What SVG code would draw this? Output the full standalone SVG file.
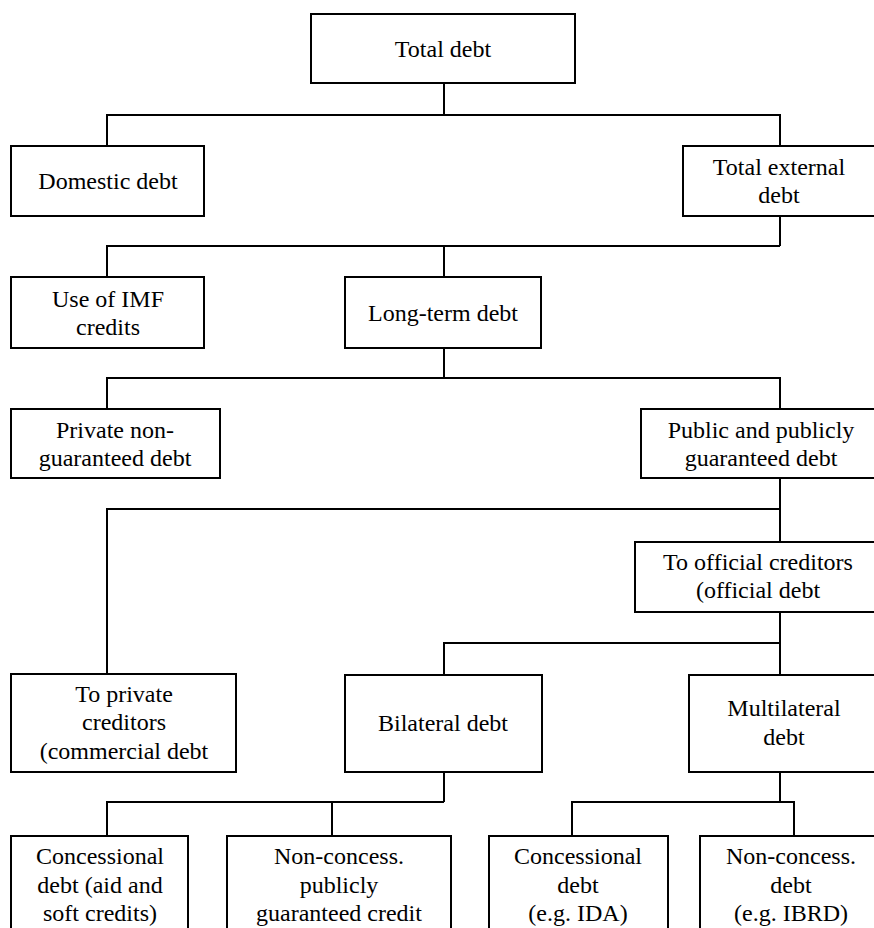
<svg xmlns="http://www.w3.org/2000/svg" width="874" height="928" viewBox="0 0 874 928">
<style>
.box{fill:#fff;stroke:#000;stroke-width:2}
.ln{fill:none;stroke:#000;stroke-width:2}
.t text{font-size:24px;fill:#000;text-anchor:middle}
</style>
<rect width="874" height="928" fill="#fff"/>
<g id="connectors" class="ln">
<path d="M444 83V115M107 146V115H780V146"/>
<path d="M780 216V246M107 277V246H780M444 246V277"/>
<path d="M444 348V378M107 409V378H780V409"/>
<path d="M780 478V542M107 674V509H780"/>
<path d="M780 612V675M444 675V643H780"/>
<path d="M444 772V802M107 836V802H444M332 802V836"/>
<path d="M780 772V802M572 836V802H794V836"/>
</g>
<g class="t" font-family="Liberation Serif, Times New Roman, DejaVu Serif, serif">
<g id="n-total"><rect class="box" x="311" y="14" width="264" height="69"/><text x="443" y="57">Total debt</text></g>
<g id="n-domestic"><rect class="box" x="11" y="146" width="193" height="70"/><text x="108" y="189">Domestic debt</text></g>
<g id="n-external"><rect class="box" x="683" y="146" width="195" height="70"/><text x="779" y="175">Total external</text><text x="779" y="203">debt</text></g>
<g id="n-imf"><rect class="box" x="11" y="277" width="193" height="71"/><text x="108" y="307">Use of IMF</text><text x="108" y="335">credits</text></g>
<g id="n-longterm"><rect class="box" x="345" y="277" width="196" height="71"/><text x="443" y="321">Long-term debt</text></g>
<g id="n-private"><rect class="box" x="11" y="409" width="209" height="69"/><text x="115" y="438">Private non-</text><text x="115" y="466">guaranteed debt</text></g>
<g id="n-public"><rect class="box" x="641" y="409" width="240" height="69"/><text x="761" y="438">Public and publicly</text><text x="761" y="466">guaranteed debt</text></g>
<g id="n-official"><rect class="box" x="635" y="542" width="246" height="70"/><text x="758" y="570">To official creditors</text><text x="758" y="598">(official debt</text></g>
<g id="n-toprivate"><rect class="box" x="11" y="674" width="225" height="98"/><text x="124" y="702">To private</text><text x="124" y="730">creditors</text><text x="124" y="759">(commercial debt</text></g>
<g id="n-bilateral"><rect class="box" x="345" y="675" width="197" height="97"/><text x="443" y="731">Bilateral debt</text></g>
<g id="n-multilateral"><rect class="box" x="689" y="675" width="190" height="97"/><text x="784" y="716">Multilateral</text><text x="784" y="745">debt</text></g>
<g id="n-concbil"><rect class="box" x="11" y="836" width="177" height="100"/><text x="100" y="864">Concessional</text><text x="100" y="893">debt (aid and</text><text x="100" y="921">soft credits)</text></g>
<g id="n-nonconcbil"><rect class="box" x="227" y="836" width="224" height="100"/><text x="339" y="864">Non-concess.</text><text x="339" y="893">publicly</text><text x="339" y="921">guaranteed credit</text></g>
<g id="n-concmul"><rect class="box" x="489" y="836" width="179" height="100"/><text x="578" y="864">Concessional</text><text x="578" y="893">debt</text><text x="578" y="921">(e.g. IDA)</text></g>
<g id="n-nonconcmul"><rect class="box" x="700" y="836" width="182" height="100"/><text x="791" y="864">Non-concess.</text><text x="791" y="893">debt</text><text x="791" y="921">(e.g. IBRD)</text></g>
</g>
</svg>
